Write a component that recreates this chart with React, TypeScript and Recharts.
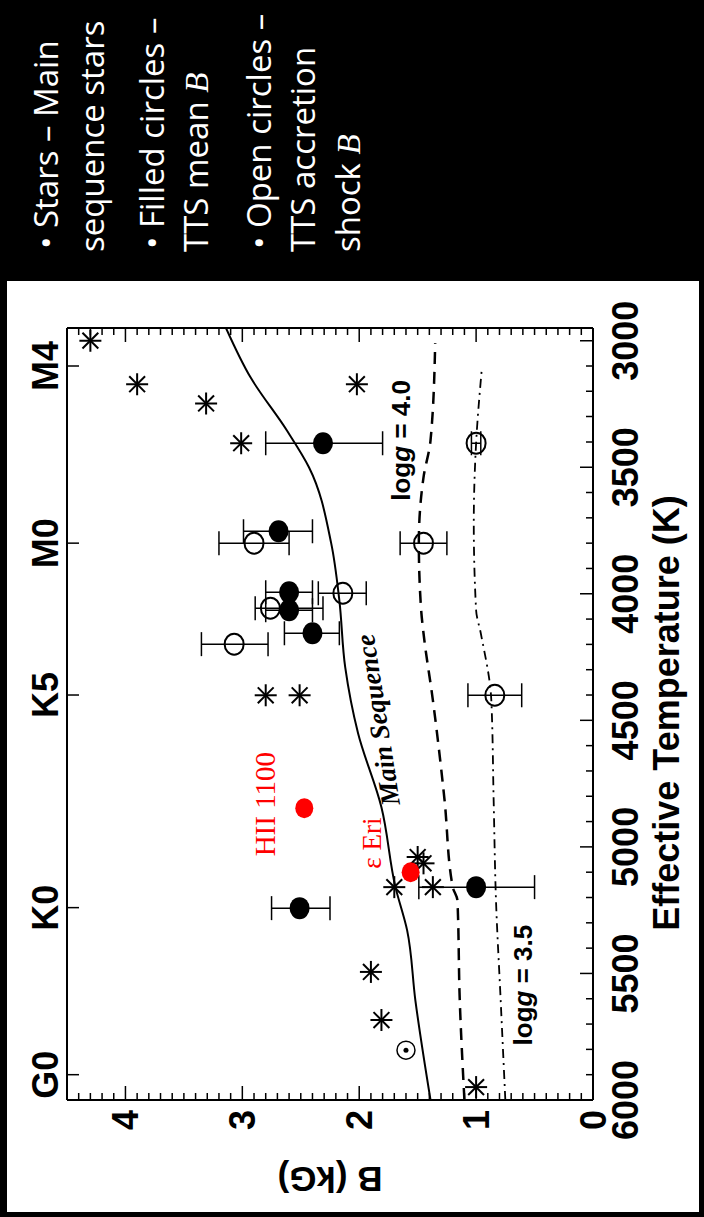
import React from "react";
import { ComposedChart, Line, Scatter, XAxis, YAxis, ErrorBar } from "recharts";

// axes
const tempTicks = [3000, 3500, 4000, 4500, 5000, 5500, 6000];
const tempMinor = Array.from({ length: 31 }, (_, i) => 3000 + i * 100);
const bTicks = [0, 1, 2, 3, 4];
const bMinor = Array.from({ length: 46 }, (_, i) => i / 10);
const spectralTypes = ["G0", "K0", "K5", "M0", "M4"];
const spectralTeff = [5900, 5240, 4400, 3800, 3100];

// main sequence stars (asterisks)
const starT = [3000, 3172, 3248, 3405, 3172, 4401, 4401, 5040, 5065, 5159, 5159, 5494, 5684, 5949];
const starB = [4.3, 3.9, 3.31, 3.01, 2.02, 2.8, 2.51, 1.5, 1.45, 1.7, 1.37, 1.9, 1.81, 1.0];

// TTS mean B (filled)
const meanT = [3405, 3753, 3994, 4065, 4156, 5159, 5242];
const meanB = [2.31, 2.69, 2.6, 2.6, 2.4, 1.0, 2.51];
const meanLo = [1.8, 2.4, 2.4, 2.4, 2.17, 0.5, 2.25];
const meanHi = [2.8, 2.99, 2.8, 2.8, 2.64, 1.49, 2.75];

// TTS accretion shock B (open)
const shockT = [3405, 3800, 3800, 3998, 4057, 4199, 4401];
const shockB = [1.0, 2.9, 1.45, 2.14, 2.76, 3.07, 0.84];
const shockLo = [0.96, 2.6, 1.25, 1.94, 2.31, 2.78, 0.61];
const shockHi = [1.04, 3.2, 1.65, 2.35, 2.89, 3.35, 1.07];

// highlighted stars
const redNames = ["HII 1100", "ε Eri"];
const redT = [4847, 5100];
const redB = [2.47, 1.56];

const sunT = [5803];
const sunB = [1.6];

// model curves
const msT = [6000, 5605, 5330, 5159, 4843, 4551, 4290, 4026, 3800, 3500, 3354, 3145, 2950];
const msB = [1.39, 1.52, 1.59, 1.69, 1.81, 2.01, 2.12, 2.17, 2.24, 2.43, 2.62, 2.93, 3.14];
const g40T = [6000, 5605, 5210, 5159, 4815, 4420, 4156, 4065, 3800, 3540, 3394, 3010];
const g40B = [1.1, 1.14, 1.16, 1.2, 1.27, 1.37, 1.45, 1.47, 1.49, 1.45, 1.39, 1.35];
const g35T = [6000, 5605, 5210, 4815, 4420, 4156, 4065, 3721, 3405, 3105];
const g35B = [0.75, 0.79, 0.83, 0.85, 0.87, 0.96, 1.0, 1.02, 1.0, 0.95];

const pts = (ts: number[], bs: number[]) => ts.map((t, i) => ({ t, b: bs[i] }));
const withErr = (ts: number[], bs: number[], lo: number[], hi: number[]) =>
  ts.map((t, i) => ({ t, b: bs[i], err: [bs[i] - lo[i], hi[i] - bs[i]] }));

const stars = pts(starT, starB);
const meanRows = withErr(meanT, meanB, meanLo, meanHi);
const shockRows = withErr(shockT, shockB, shockLo, shockHi);
const redRows = redT.map((t, i) => ({ t, b: redB[i], name: redNames[i] }));
const sunRows = pts(sunT, sunB);
const msRows = pts(msT, msB);
const g40Rows = pts(g40T, g40B);
const g35Rows = pts(g35T, g35B);

// text annotations, placed in data coordinates
const notes = [
  { t: 4499, b: 1.84, kind: "ms" },
  { t: 3394, b: 1.64, kind: "g40" },
  { t: 5546, b: 0.6, kind: "g35" },
  { t: 4831, b: 2.81, kind: "hii" },
  { t: 4985, b: 1.89, kind: "eri" },
];

const ink = "#000";
const sans = "'Liberation Sans', Arial, Helvetica, sans-serif";
const serif = "'Liberation Serif', 'Times New Roman', serif";

function TempTick({ x, y, payload }: any) {
  const v = payload.value;
  const major = v % 500 === 0;
  return (
    <g>
      <line x1={x} x2={x} y1={y} y2={y - (major ? 13 : 7)} stroke={ink} strokeWidth={1.5} />
      {major && (
        <text x={x} y={y + 45} textAnchor="middle" fill={ink} fontFamily={sans} fontWeight={700} fontSize={36}>
          {v}
        </text>
      )}
    </g>
  );
}

function SpectralTick({ x, y, payload }: any) {
  const i = spectralTeff.indexOf(payload.value);
  return (
    <g>
      <line x1={x} x2={x} y1={y} y2={y + 12} stroke={ink} strokeWidth={1.5} />
      <text x={x} y={y - 9} textAnchor="middle" fill={ink} fontFamily={sans} fontWeight={700} fontSize={36}>
        {spectralTypes[i]}
      </text>
    </g>
  );
}

function BTick({ x, y, payload, side }: any) {
  const v = payload.value;
  const major = Math.abs(v - Math.round(v)) < 1e-6;
  const dir = side === "left" ? 1 : -1;
  return (
    <g>
      <line x1={x} x2={x + dir * (major ? 14 : 7)} y1={y} y2={y} stroke={ink} strokeWidth={1.5} />
      {major && side === "left" && (
        <text x={x - 10} y={y} dy="0.36em" textAnchor="end" fill={ink} fontFamily={sans} fontWeight={700} fontSize={36}>
          {Math.round(v)}
        </text>
      )}
    </g>
  );
}

const Asterisk = ({ cx, cy }: any) => {
  const r = 11;
  const d = r * 0.72;
  return (
    <g stroke={ink} strokeWidth={2}>
      <line x1={cx - r} x2={cx + r} y1={cy} y2={cy} />
      <line x1={cx} x2={cx} y1={cy - r} y2={cy + r} />
      <line x1={cx - d} x2={cx + d} y1={cy - d} y2={cy + d} />
      <line x1={cx - d} x2={cx + d} y1={cy + d} y2={cy - d} />
    </g>
  );
};

const FilledDot = ({ cx, cy }: any) => <ellipse cx={cx} cy={cy} rx={11} ry={10} fill={ink} />;
const OpenDot = ({ cx, cy }: any) => (
  <ellipse cx={cx} cy={cy} rx={10.5} ry={9.5} fill="none" stroke={ink} strokeWidth={2} />
);
const RedDot = ({ cx, cy }: any) => <ellipse cx={cx} cy={cy} rx={10} ry={9} fill="#f00" />;
const SunDot = ({ cx, cy }: any) => (
  <g>
    <circle cx={cx} cy={cy} r={9} fill="none" stroke={ink} strokeWidth={1.5} />
    <circle cx={cx} cy={cy} r={2.5} fill={ink} />
  </g>
);

const Note = ({ cx, cy, payload }: any) => {
  switch (payload.kind) {
    case "ms":
      return (
        <text x={cx} y={cy} textAnchor="middle" dominantBaseline="central" transform={`rotate(-8.8 ${cx} ${cy})`}
          fontFamily={serif} fontStyle="italic" fontWeight={700} fontSize={27} fill={ink}>
          Main Sequence
        </text>
      );
    case "g40":
    case "g35":
      return (
        <text x={cx} y={cy} textAnchor="middle" dominantBaseline="central" fontFamily={sans} fontWeight={700} fontSize={26} fill={ink}>
          log<tspan fontStyle="italic">g</tspan>
          {payload.kind === "g40" ? " = 4.0" : " = 3.5"}
        </text>
      );
    case "hii":
      return (
        <text x={cx} y={cy} textAnchor="middle" dominantBaseline="central" fontFamily={serif} fontSize={29} fill="#f00">
          {redNames[0]}
        </text>
      );
    default:
      return (
        <text x={cx} y={cy} textAnchor="middle" dominantBaseline="central" fontFamily={serif} fontSize={27} fill="#f00">
          {redNames[1]}
        </text>
      );
  }
};

const legendFont = "'Open Sans', 'Noto Sans', sans-serif";

export default function App() {
  return (
    <div style={{ position: "absolute", left: 0, top: 0, width: 704, height: 1217, background: "#000", overflow: "hidden" }}>
      {/* slide drawn landscape, then turned a quarter turn */}
      <div
        style={{
          position: "absolute",
          left: 0,
          top: 0,
          width: 1217,
          height: 704,
          transformOrigin: "0 0",
          transform: "translateY(1217px) rotate(-90deg)",
        }}
      >
        <div style={{ position: "absolute", left: 5, top: 7, width: 931, height: 692, background: "#fff" }} />
        <div style={{ position: "absolute", left: 0, top: 0 }}>
          <ComposedChart width={936} height={704} margin={{ top: 66, right: 46, bottom: 110, left: 116 }}>
            <XAxis
              xAxisId="t"
              dataKey="t"
              type="number"
              domain={[2950, 6000]}
              reversed
              allowDataOverflow
              ticks={tempMinor}
              interval={0}
              height={1}
              tickSize={0}
              tickMargin={0}
              tickLine={false}
              axisLine={{ stroke: ink, strokeWidth: 2 }}
              tick={<TempTick />}
            />
            <XAxis
              xAxisId="sp"
              dataKey="t"
              type="number"
              orientation="top"
              domain={[2950, 6000]}
              reversed
              allowDataOverflow
              ticks={spectralTeff}
              interval={0}
              height={1}
              tickSize={0}
              tickMargin={0}
              tickLine={false}
              axisLine={{ stroke: ink, strokeWidth: 2 }}
              tick={<SpectralTick />}
            />
            <YAxis
              yAxisId="b"
              dataKey="b"
              type="number"
              domain={[0, 4.5]}
              allowDataOverflow
              ticks={bMinor}
              interval={0}
              width={1}
              tickSize={0}
              tickMargin={0}
              tickLine={false}
              axisLine={{ stroke: ink, strokeWidth: 2 }}
              tick={<BTick side="left" />}
            />
            <YAxis
              yAxisId="b2"
              dataKey="b"
              type="number"
              orientation="right"
              domain={[0, 4.5]}
              allowDataOverflow
              ticks={bMinor}
              interval={0}
              width={1}
              tickSize={0}
              tickMargin={0}
              tickLine={false}
              axisLine={{ stroke: ink, strokeWidth: 2 }}
              tick={<BTick side="right" />}
            />

            <Line xAxisId="t" yAxisId="b" data={msRows} dataKey="b" type="monotone" stroke={ink} strokeWidth={2} dot={false} isAnimationActive={false} />
            <Line xAxisId="t" yAxisId="b" data={g40Rows} dataKey="b" type="monotone" stroke={ink} strokeWidth={2.5} strokeDasharray="12 8" dot={false} isAnimationActive={false} />
            <Line xAxisId="t" yAxisId="b" data={g35Rows} dataKey="b" type="monotone" stroke={ink} strokeWidth={1.8} strokeDasharray="9 5 2 5" dot={false} isAnimationActive={false} />
            <Line xAxisId="sp" yAxisId="b2" data={msRows} dataKey="b" stroke="none" dot={false} isAnimationActive={false} />

            <Scatter xAxisId="t" yAxisId="b" data={stars} shape={<Asterisk />} isAnimationActive={false} />
            <Scatter xAxisId="t" yAxisId="b" data={shockRows} shape={<OpenDot />} isAnimationActive={false}>
              <ErrorBar dataKey="err" direction="y" width={12} stroke={ink} strokeWidth={1.5} />
            </Scatter>
            <Scatter xAxisId="t" yAxisId="b" data={meanRows} shape={<FilledDot />} isAnimationActive={false}>
              <ErrorBar dataKey="err" direction="y" width={12} stroke={ink} strokeWidth={1.5} />
            </Scatter>
            <Scatter xAxisId="t" yAxisId="b" data={redRows} shape={<RedDot />} isAnimationActive={false} />
            <Scatter xAxisId="t" yAxisId="b" data={sunRows} shape={<SunDot />} isAnimationActive={false} />
            <Scatter xAxisId="t" yAxisId="b" data={notes} shape={<Note />} isAnimationActive={false} />
          </ComposedChart>
        </div>

        <svg style={{ position: "absolute", left: 0, top: 0, pointerEvents: "none" }} width={936} height={704}>
          <text x={504} y={679} textAnchor="middle" fontFamily={sans} fontWeight={700} fontSize={36} fill={ink}>
            Effective Temperature (K)
          </text>
          <text transform="translate(50 330) rotate(-90)" textAnchor="middle" fontFamily={sans} fontWeight={700} fontSize={35} fill={ink}>
            B (kG)
          </text>
        </svg>

        <svg style={{ position: "absolute", left: 936, top: 0 }} width={281} height={704}>
          <g fill="#fff" fontFamily={legendFont} fontSize={33}>
            <text x={32} y={58}>• Stars – Main</text>
            <text x={29} y={104}>sequence stars</text>
            <text x={32} y={164}>• Filled circles –</text>
            <text x={29} y={208}>
              TTS mean <tspan fontFamily={serif} fontStyle="italic">B</tspan>
            </text>
            <text x={32} y={271}>• Open circles –</text>
            <text x={29} y={315}>TTS accretion</text>
            <text x={29} y={360}>
              shock <tspan fontFamily={serif} fontStyle="italic">B</tspan>
            </text>
          </g>
        </svg>
      </div>
    </div>
  );
}
